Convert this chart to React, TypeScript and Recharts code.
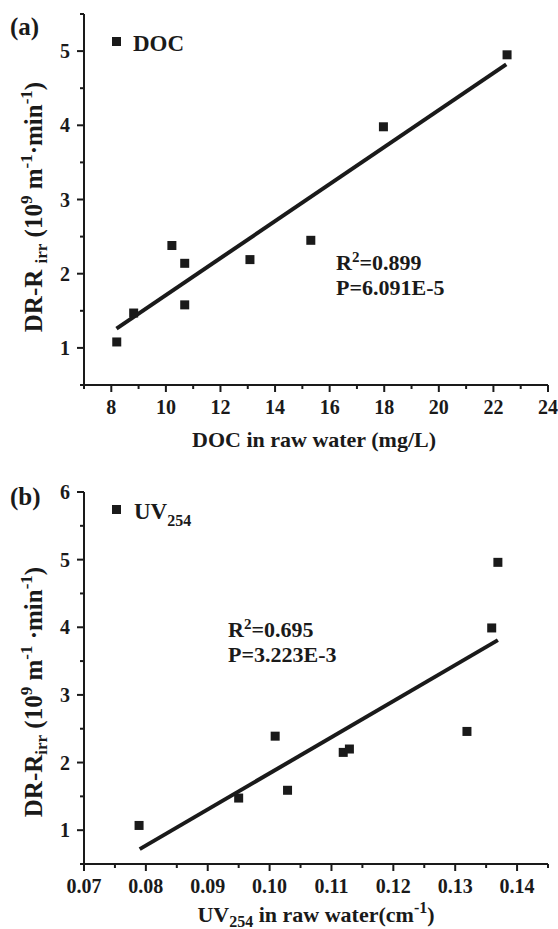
import React from 'react';
import { ScatterChart, Scatter, XAxis, YAxis, ReferenceLine } from 'recharts';

// ---------- Data (a): DOC ----------
const docX = [8.2, 8.82, 10.22, 10.69, 10.69, 13.08, 15.31, 17.97, 22.5];
const docY = [1.08, 1.47, 2.38, 2.14, 1.58, 2.19, 2.45, 3.98, 4.95];
const docFitX = [8.19, 22.47];
const docFitY = [1.26, 4.82];
const docXTicks = [7, 8, 9, 10, 11, 12, 13, 14, 15, 16, 17, 18, 19, 20, 21, 22, 23, 24];
const docXLabels = [8, 10, 12, 14, 16, 18, 20, 22, 24];
const docYTicks = [0.5, 1, 1.5, 2, 2.5, 3, 3.5, 4, 4.5, 5, 5.5];
const docYLabels = [1, 2, 3, 4, 5];

// ---------- Data (b): UV254 ----------
const uvX = [0.0789, 0.095, 0.1029, 0.1009, 0.1119, 0.1129, 0.1319, 0.1359, 0.1369];
const uvY = [1.07, 1.475, 1.59, 2.39, 2.15, 2.2, 2.46, 3.99, 4.96];
const uvFitX = [0.079, 0.1369];
const uvFitY = [0.72, 3.81];
const uvXTicks = [0.07, 0.075, 0.08, 0.085, 0.09, 0.095, 0.1, 0.105, 0.11, 0.115, 0.12, 0.125, 0.13, 0.135, 0.14, 0.145];
const uvXLabels = [0.07, 0.08, 0.09, 0.1, 0.11, 0.12, 0.13, 0.14];
const uvYTicks = [0.5, 1, 1.5, 2, 2.5, 3, 3.5, 4, 4.5, 5, 5.5, 6];
const uvYLabels = [1, 2, 3, 4, 5, 6];

const FONT = '"Liberation Serif", "Times New Roman", "DejaVu Serif", serif';
const INK = '#1a1a1a';

const isIn = (arr: number[], v: number) => arr.some((m) => Math.abs(m - v) < 1e-9);

const makeBottomTick = (labels: number[], digits: number) => (props: any) => {
  const { x, y, payload } = props;
  const v = payload.value;
  const major = isIn(labels, v);
  return (
    <g>
      <line x1={x} x2={x} y1={y} y2={y + (major ? 7 : 4)} stroke={INK} strokeWidth={2} />
      {major && (
        <text x={x} y={y + 29} textAnchor="middle" fontFamily={FONT} fontWeight="bold" fontSize={20} fill={INK}>
          {v.toFixed(digits)}
        </text>
      )}
    </g>
  );
};

const makeLeftTick = (labels: number[]) => (props: any) => {
  const { x, y, payload } = props;
  const v = payload.value;
  const major = isIn(labels, v);
  return (
    <g>
      <line x1={x - (major ? 7 : 4)} x2={x} y1={y} y2={y} stroke={INK} strokeWidth={2} />
      {major && (
        <text x={x - 14} y={y} dy="0.35em" textAnchor="end" fontFamily={FONT} fontWeight="bold" fontSize={20} fill={INK}>
          {v}
        </text>
      )}
    </g>
  );
};

const TopTick = (props: any) => {
  const { x, y } = props;
  return <line x1={x} x2={x} y1={y} y2={y + 3} stroke="#888" strokeWidth={1} />;
};

const square = (p: any) => <rect x={p.cx - 4.5} y={p.cy - 4.5} width={9} height={9} fill={INK} />;

const axisLine = { stroke: INK, strokeWidth: 2 };

interface PanelProps {
  height: number;
  top: number;
  xAxisH: number;
  data: { x: number; y: number }[];
  fit: { x: number; y: number }[];
  xDomain: [number, number];
  yDomain: [number, number];
  xTicks: number[];
  yTicks: number[];
  topTicks: number[];
  bottomTick: any;
  leftTick: any;
}

const Panel = (p: PanelProps) => (
  <ScatterChart width={558} height={p.height} margin={{ top: p.top, right: 10, left: 0, bottom: 0 }}>
    <XAxis
      type="number"
      dataKey="x"
      domain={p.xDomain}
      ticks={p.xTicks}
      interval={0}
      height={p.xAxisH}
      tickSize={0}
      tickMargin={0}
      tickLine={false}
      axisLine={axisLine}
      tick={p.bottomTick}
      allowDataOverflow
    />
    <XAxis
      xAxisId="top"
      orientation="top"
      type="number"
      domain={p.xDomain}
      ticks={p.topTicks}
      interval={0}
      height={0}
      tickSize={0}
      tickMargin={0}
      tickLine={false}
      axisLine={axisLine}
      tick={TopTick}
      allowDataOverflow
    />
    <YAxis
      type="number"
      dataKey="y"
      domain={p.yDomain}
      ticks={p.yTicks}
      interval={0}
      width={84}
      tickSize={0}
      tickMargin={0}
      tickLine={false}
      axisLine={axisLine}
      tick={p.leftTick}
      allowDataOverflow
    />
    <YAxis
      yAxisId="right"
      orientation="right"
      type="number"
      domain={p.yDomain}
      width={0}
      tick={false}
      tickLine={false}
      axisLine={axisLine}
      allowDataOverflow
    />
    <ReferenceLine segment={p.fit} stroke={INK} strokeWidth={4} ifOverflow="visible" />
    <Scatter data={p.data} shape={square} isAnimationActive={false} />
  </ScatterChart>
);

const T = (props: any) => (
  <text fontFamily={FONT} fontWeight="bold" fill={INK} {...props} />
);

export default function App() {
  const docData = docX.map((x, i) => ({ x, y: docY[i] }));
  const docFit = docFitX.map((x, i) => ({ x, y: docFitY[i] }));
  const uvData = uvX.map((x, i) => ({ x, y: uvY[i] }));
  const uvFit = uvFitX.map((x, i) => ({ x, y: uvFitY[i] }));

  return (
    <div style={{ position: 'relative', width: 558, height: 929, background: '#fff' }}>
      <style>{`body{margin:0;background:#fff}`}</style>
      <div style={{ position: 'absolute', left: 0, top: 0 }}>
        <Panel
          height={465}
          top={14}
          xAxisH={80}
          data={docData}
          fit={docFit}
          xDomain={[7, 24]}
          yDomain={[0.5, 5.5]}
          xTicks={docXTicks}
          yTicks={docYTicks}
          topTicks={docXTicks}
          bottomTick={makeBottomTick(docXLabels, 0)}
          leftTick={makeLeftTick(docYLabels)}
        />
      </div>
      <div style={{ position: 'absolute', left: 0, top: 465 }}>
        <Panel
          height={464}
          top={27}
          xAxisH={65}
          data={uvData}
          fit={uvFit}
          xDomain={[0.07, 0.145]}
          yDomain={[0.5, 6]}
          xTicks={uvXTicks}
          yTicks={uvYTicks}
          topTicks={uvXTicks}
          bottomTick={makeBottomTick(uvXLabels, 2)}
          leftTick={makeLeftTick(uvYLabels)}
        />
      </div>
      <svg width={558} height={929} style={{ position: 'absolute', left: 0, top: 0, pointerEvents: 'none' }}>
        {/* Panel (a) annotations */}
        <T x={10} y={35} fontSize={25}>(a)</T>
        <rect x={112} y={37} width={9} height={9} fill={INK} />
        <T x={133} y={51} fontSize={23}>DOC</T>
        <T x={336} y={270} fontSize={22}>
          R<tspan dy={-8} fontSize={15}>2</tspan><tspan dy={8}>=0.899</tspan>
        </T>
        <T x={336} y={295} fontSize={22}>P=6.091E-5</T>
        <T x={314} y={447} fontSize={22} textAnchor="middle">DOC in raw water (mg/L)</T>
        <T fontSize={25} textAnchor="middle" transform="translate(42,207) rotate(-90)">
          DR-R <tspan dy={5} fontSize={17}>irr</tspan>
          <tspan dy={-5}> (10</tspan>
          <tspan dy={-10} fontSize={17}>9</tspan>
          <tspan dy={10}> m</tspan>
          <tspan dy={-10} fontSize={17}>-1</tspan>
          <tspan dy={10}>·min</tspan>
          <tspan dy={-10} fontSize={17}>-1</tspan>
          <tspan dy={10}>)</tspan>
        </T>

        {/* Panel (b) annotations */}
        <T x={10} y={505} fontSize={25}>(b)</T>
        <rect x={112} y={505} width={9} height={9} fill={INK} />
        <T x={134} y={519} fontSize={23}>
          UV<tspan dy={7} fontSize={16}>254</tspan>
        </T>
        <T x={228} y={637} fontSize={22}>
          R<tspan dy={-8} fontSize={15}>2</tspan><tspan dy={8}>=0.695</tspan>
        </T>
        <T x={228} y={662} fontSize={22}>P=3.223E-3</T>
        <T x={316} y={922} fontSize={22} textAnchor="middle">
          UV<tspan dy={5} fontSize={16}>254</tspan>
          <tspan dy={-5}> in raw water(cm</tspan>
          <tspan dy={-9} fontSize={16}>-1</tspan>
          <tspan dy={9}>)</tspan>
        </T>
        <T fontSize={25} textAnchor="middle" transform="translate(42,692) rotate(-90)">
          DR-R<tspan dy={5} fontSize={17}>irr</tspan>
          <tspan dy={-5}> (10</tspan>
          <tspan dy={-10} fontSize={17}>9</tspan>
          <tspan dy={10}> m</tspan>
          <tspan dy={-10} fontSize={17}>-1</tspan>
          <tspan dy={10}> ·min</tspan>
          <tspan dy={-10} fontSize={17}>-1</tspan>
          <tspan dy={10}>)</tspan>
        </T>
      </svg>
    </div>
  );
}
